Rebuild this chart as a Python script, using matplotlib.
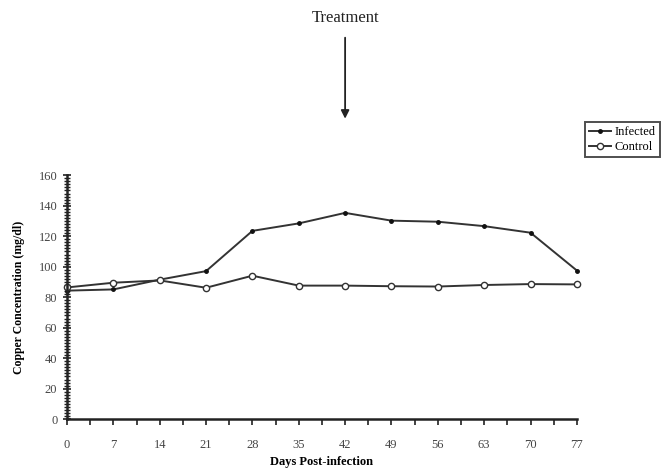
import numpy as np
import matplotlib.pyplot as plt
from matplotlib.ticker import MultipleLocator

# days post-infection and copper concentration (mg/dl)
days = [0, 7, 14, 21, 28, 35, 42, 49, 56, 63, 70, 77]
infected = [84.3, 85.1, 91.5, 97.1, 123.5, 128.4, 135.3, 130.2, 129.5, 126.6, 122.3, 97.5]
control = [86.4, 89.5, 91.0, 86.2, 94.1, 87.6, 87.6, 87.2, 87.0, 88.0, 88.6, 88.4]
treatment_day = 42

plt.rcParams['font.family'] = ['Liberation Serif', 'DejaVu Serif']

fig = plt.figure(figsize=(6.7, 4.71), dpi=100)
ax = fig.add_axes([0.100, 0.110, 0.761, 0.518])

ax.plot(days, infected, color='#333333', lw=1.4, marker='o', ms=2.5,
        mfc='#111111', mec='#111111', label='Infected', clip_on=False)
ax.plot(days, control, color='#333333', lw=1.4, marker='o', ms=4.5,
        mfc='white', mec='#333333', mew=1.0, label='Control', clip_on=False)

ax.set_xlim(0, 77)
ax.set_ylim(0, 160)
ax.xaxis.set_major_locator(MultipleLocator(7))
ax.xaxis.set_minor_locator(MultipleLocator(3.5))
ax.yaxis.set_major_locator(MultipleLocator(20))
ax.yaxis.set_minor_locator(MultipleLocator(2))

for s in ['top', 'right']:
    ax.spines[s].set_visible(False)
for s in ['left', 'bottom']:
    ax.spines[s].set_linewidth(1.8)
    ax.spines[s].set_color('#222222')

ax.tick_params(axis='x', which='both', direction='out', length=4, width=1.2,
               pad=10, labelsize=9, labelcolor='#444444', color='#222222')
ax.tick_params(axis='y', which='major', direction='inout', length=6, width=1.2,
               pad=4, labelsize=9, labelcolor='#444444', color='#222222')
ax.tick_params(axis='y', which='minor', direction='inout', length=4, width=1.0,
               color='#222222')

ax.set_xlabel('Days Post-infection', fontsize=9, fontweight='bold', labelpad=4)
ax.set_ylabel('Copper Concentration (mg/dl)', fontsize=8.5, fontweight='bold', labelpad=10)

leg = fig.legend(loc='upper left', bbox_to_anchor=(0.873, 0.740), fontsize=9,
                 frameon=True, fancybox=False, edgecolor='#222222',
                 handlelength=1.8, handletextpad=0.3, borderpad=0.3,
                 labelspacing=0.25, borderaxespad=0)
leg.get_frame().set_linewidth(1.4)

# treatment arrow
ax.annotate('', xy=(treatment_day, 0.748), xytext=(treatment_day, 0.920),
            xycoords=('data', 'figure fraction'),
            textcoords=('data', 'figure fraction'),
            arrowprops=dict(arrowstyle='-|>', color='#222222', lw=1.3,
                            mutation_scale=12, shrinkA=0, shrinkB=0))
ax.annotate('Treatment', xy=(treatment_day, 0.962), xycoords=('data', 'figure fraction'),
            ha='center', va='center', fontsize=12, color='#222222')

fig.savefig('out.png', dpi=100)
